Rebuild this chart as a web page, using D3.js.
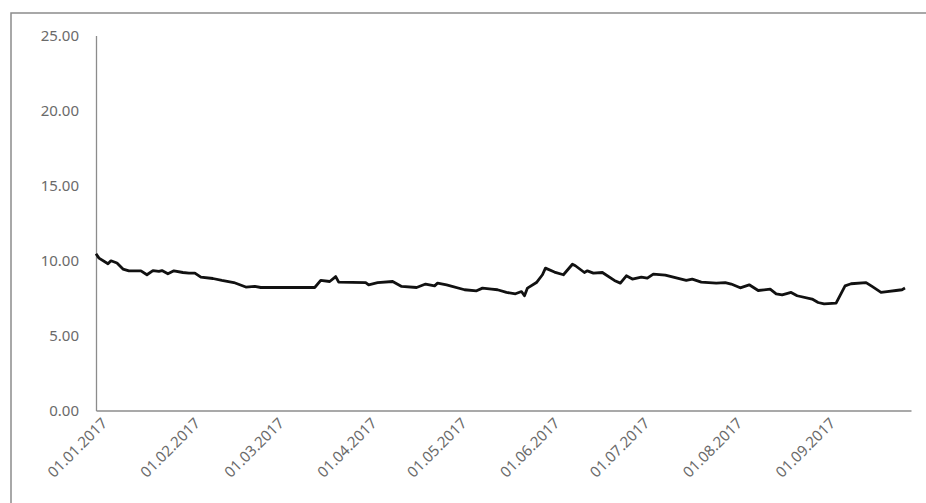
<!DOCTYPE html>
<html><head><meta charset="utf-8">
<script src="https://cdn.jsdelivr.net/npm/d3@7/dist/d3.min.js"></script>
<style>body{margin:0;background:#fff;}svg{display:block;}</style>
</head><body>
<svg id="c" width="926" height="503"></svg>
<script>
const dates = ["2017-01-01","2017-01-02","2017-01-05","2017-01-06","2017-01-08","2017-01-10","2017-01-12","2017-01-16","2017-01-18","2017-01-20","2017-01-22","2017-01-23","2017-01-25","2017-01-27","2017-01-30","2017-02-01","2017-02-03","2017-02-05","2017-02-09","2017-02-12","2017-02-16","2017-02-20","2017-02-23","2017-02-25","2017-03-15","2017-03-17","2017-03-20","2017-03-22","2017-03-23","2017-04-01","2017-04-02","2017-04-05","2017-04-10","2017-04-13","2017-04-18","2017-04-21","2017-04-24","2017-04-25","2017-04-28","2017-05-04","2017-05-08","2017-05-10","2017-05-13","2017-05-15","2017-05-18","2017-05-21","2017-05-23","2017-05-24","2017-05-25","2017-05-28","2017-05-30","2017-05-31","2017-06-03","2017-06-06","2017-06-09","2017-06-10","2017-06-13","2017-06-14","2017-06-16","2017-06-19","2017-06-23","2017-06-25","2017-06-27","2017-06-29","2017-07-02","2017-07-04","2017-07-06","2017-07-10","2017-07-14","2017-07-17","2017-07-19","2017-07-22","2017-07-27","2017-07-30","2017-08-01","2017-08-04","2017-08-07","2017-08-10","2017-08-14","2017-08-16","2017-08-18","2017-08-21","2017-08-23","2017-08-28","2017-08-30","2017-09-01","2017-09-05","2017-09-08","2017-09-10","2017-09-15","2017-09-17","2017-09-20","2017-09-22","2017-09-25","2017-09-27","2017-09-28"];
const values = [10.45,10.16,9.78,9.98,9.83,9.43,9.31,9.31,9.05,9.33,9.27,9.33,9.11,9.31,9.2,9.16,9.16,8.89,8.8,8.67,8.53,8.23,8.27,8.2,8.2,8.67,8.6,8.93,8.56,8.53,8.38,8.53,8.6,8.27,8.2,8.43,8.31,8.49,8.38,8.05,7.98,8.16,8.09,8.05,7.87,7.78,7.93,7.65,8.16,8.53,9.05,9.49,9.23,9.05,9.75,9.65,9.2,9.31,9.16,9.2,8.67,8.49,8.98,8.76,8.89,8.82,9.09,9.02,8.82,8.67,8.76,8.56,8.49,8.53,8.43,8.18,8.38,8.0,8.09,7.78,7.71,7.87,7.65,7.43,7.2,7.11,7.16,8.31,8.45,8.53,8.27,7.87,7.93,8.0,8.05,8.16];
const yTicks = [0,5,10,15,20,25];
const xTickDates = ["2017-01-01","2017-02-01","2017-03-01","2017-04-01","2017-05-01","2017-06-01","2017-07-01","2017-08-01","2017-09-01"];

const parse = d3.timeParse("%Y-%m-%d");
const fmt = d3.timeFormat("%d.%m.%Y");
const data = dates.map((d,i)=>({date:parse(d), v:values[i]}));

const svg = d3.select("#c");
// outer chart frame
svg.append("rect").attr("x",11).attr("y",13).attr("width",930).attr("height",520)
  .attr("fill","none").attr("stroke","#8c8c8c").attr("stroke-width",1.5);

const x = d3.scaleTime().domain([parse("2017-01-01"), parse("2017-09-30")]).range([96, 911]);
const y = d3.scaleLinear().domain([0,25]).range([410.5, 35.5]);

const font = "'Noto Sans', sans-serif";

// Y axis
const yAxis = svg.append("g").attr("transform","translate(96,0)")
  .call(d3.axisLeft(y).tickValues(yTicks).tickSize(0).tickPadding(17).tickFormat(d3.format(".2f")));
yAxis.select(".domain").attr("stroke","#8c8c8c").attr("stroke-width",1.3);
yAxis.selectAll("text").attr("fill","#6a6a6a").style("font-family",font).style("font-size","15px");

// X axis with labels rotated -45°
const xAxis = svg.append("g").attr("transform","translate(0,410.5)")
  .call(d3.axisBottom(x).tickValues(xTickDates.map(parse)).tickSize(0).tickFormat(fmt));
xAxis.select(".domain").attr("stroke","#8c8c8c").attr("stroke-width",1.3);
xAxis.selectAll(".tick text")
  .attr("fill","#6a6a6a").style("font-family",font).style("font-size","15px")
  .attr("x",0).attr("y",0).attr("dy","0.35em")
  .attr("text-anchor","end")
  .attr("transform","translate(8,10) rotate(-45)");

// line
const line = d3.line().x(d=>x(d.date)).y(d=>y(d.v));
svg.append("path").datum(data).attr("d",line).attr("fill","none")
  .attr("stroke","#111").attr("stroke-width",2.8).attr("stroke-linejoin","round");
</script>
</body></html>
